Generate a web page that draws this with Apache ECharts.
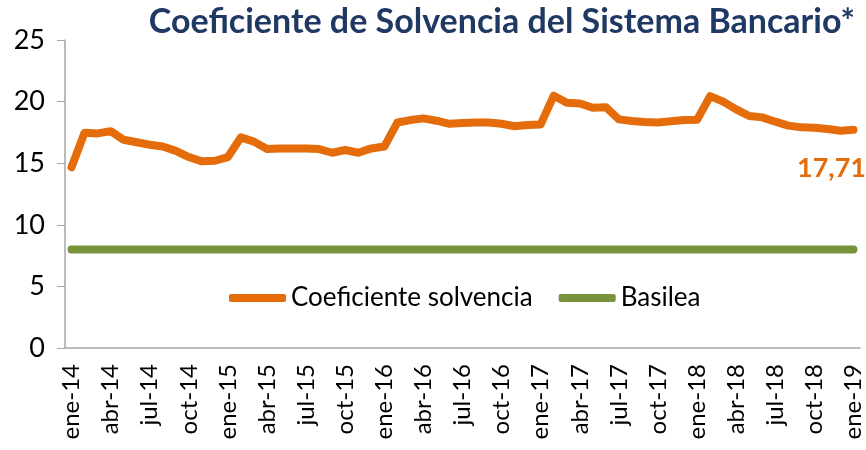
<!DOCTYPE html>
<html>
<head>
<meta charset="utf-8">
<script src="https://cdn.jsdelivr.net/npm/echarts@6/dist/echarts.min.js"></script>
<style>
  html, body { margin: 0; padding: 0; background: #fff; }
  #chart { width: 866px; height: 450px; }
</style>
</head>
<body>
<div id="chart"></div>
<script>
// meses de ene-14 a ene-19
const mesesNombre = ['ene', 'feb', 'mar', 'abr', 'may', 'jun', 'jul', 'ago', 'sep', 'oct', 'nov', 'dic']
const anios = ['14', '15', '16', '17', '18', '19']

const categorias = []
anios.forEach(function (a) {
  mesesNombre.forEach(function (m) {
    if (categorias.length < 61) categorias.push(m + '-' + a)
  })
})

const solvencia = [
  14.67, 17.48, 17.42, 17.6, 16.9, 16.7, 16.5, 16.35, 16.0, 15.5, 15.15, 15.2,
  15.5, 17.1, 16.75, 16.15, 16.2, 16.2, 16.2, 16.15, 15.85, 16.07, 15.85, 16.2,
  16.35, 18.3, 18.5, 18.64, 18.45, 18.2, 18.26, 18.3, 18.3, 18.2, 18.0, 18.1,
  18.15, 20.48, 19.9, 19.85, 19.5, 19.55, 18.56, 18.42, 18.34, 18.3, 18.4, 18.5,
  18.53, 20.45, 20.0, 19.37, 18.83, 18.72, 18.37, 18.05, 17.91, 17.88, 17.78, 17.64,
  17.71
]

const basileaNivel = 8
const basilea = categorias.map(function () { return basileaNivel })

const naranja = '#E46C0A'
const verde = '#77933C'
const gris = '#A6A6A6'

const ultimo = solvencia.length - 1

const myChart = echarts.init(document.getElementById('chart'))
const option = {
  animation: false,
  title: {
    text: 'Coeficiente de Solvencia del Sistema Bancario*',
    right: 6,
    top: 0,
    textStyle: {
      fontFamily: 'Lato',
      fontWeight: 'bold',
      fontSize: 34,
      color: '#1F3864'
    }
  },
  legend: {
    left: 224,
    top: 280,
    itemWidth: 57,
    itemHeight: 8,
    itemGap: 26,
    icon: 'roundRect',
    textStyle: { fontFamily: 'Lato', fontSize: 26, color: '#000' },
    data: ['Coeficiente solvencia', 'Basilea']
  },
  grid: { left: 65, right: 6, top: 40, bottom: 102 },
  xAxis: {
    type: 'category',
    data: categorias,
    boundaryGap: true,
    axisLine: { lineStyle: { color: gris, width: 1.5 } },
    axisTick: { interval: 2, length: 7, lineStyle: { color: gris } },
    axisLabel: {
      interval: 2,
      rotate: 90,
      margin: 16,
      fontFamily: 'Lato',
      fontSize: 24,
      color: '#000'
    }
  },
  yAxis: {
    type: 'value',
    min: 0,
    max: 25,
    interval: 5,
    splitLine: { show: false },
    axisLine: { show: true, lineStyle: { color: gris, width: 1.5 } },
    axisTick: { show: true, length: 8, lineStyle: { color: gris } },
    axisLabel: { margin: 20, fontFamily: 'Lato', fontSize: 27, color: '#000' }
  },
  series: [
    {
      name: 'Coeficiente solvencia',
      type: 'line',
      data: solvencia,
      showSymbol: false,
      color: naranja,
      lineStyle: { width: 8, color: naranja, cap: 'round', join: 'round' },
      markPoint: {
        symbol: 'circle',
        symbolSize: 0,
        data: [{ coord: [ultimo, solvencia[ultimo]], value: solvencia[ultimo] }],
        label: {
          show: true,
          position: 'inside',
          offset: [-22, 38],
          formatter: function (p) { return p.value.toFixed(2).replace('.', ',') },
          fontFamily: 'Lato',
          fontWeight: 'bold',
          fontSize: 27,
          color: naranja
        }
      }
    },
    {
      name: 'Basilea',
      type: 'line',
      data: basilea,
      showSymbol: false,
      color: verde,
      lineStyle: { width: 8, color: verde, cap: 'round' }
    }
  ]
}
myChart.setOption(option)
</script>
</body>
</html>
